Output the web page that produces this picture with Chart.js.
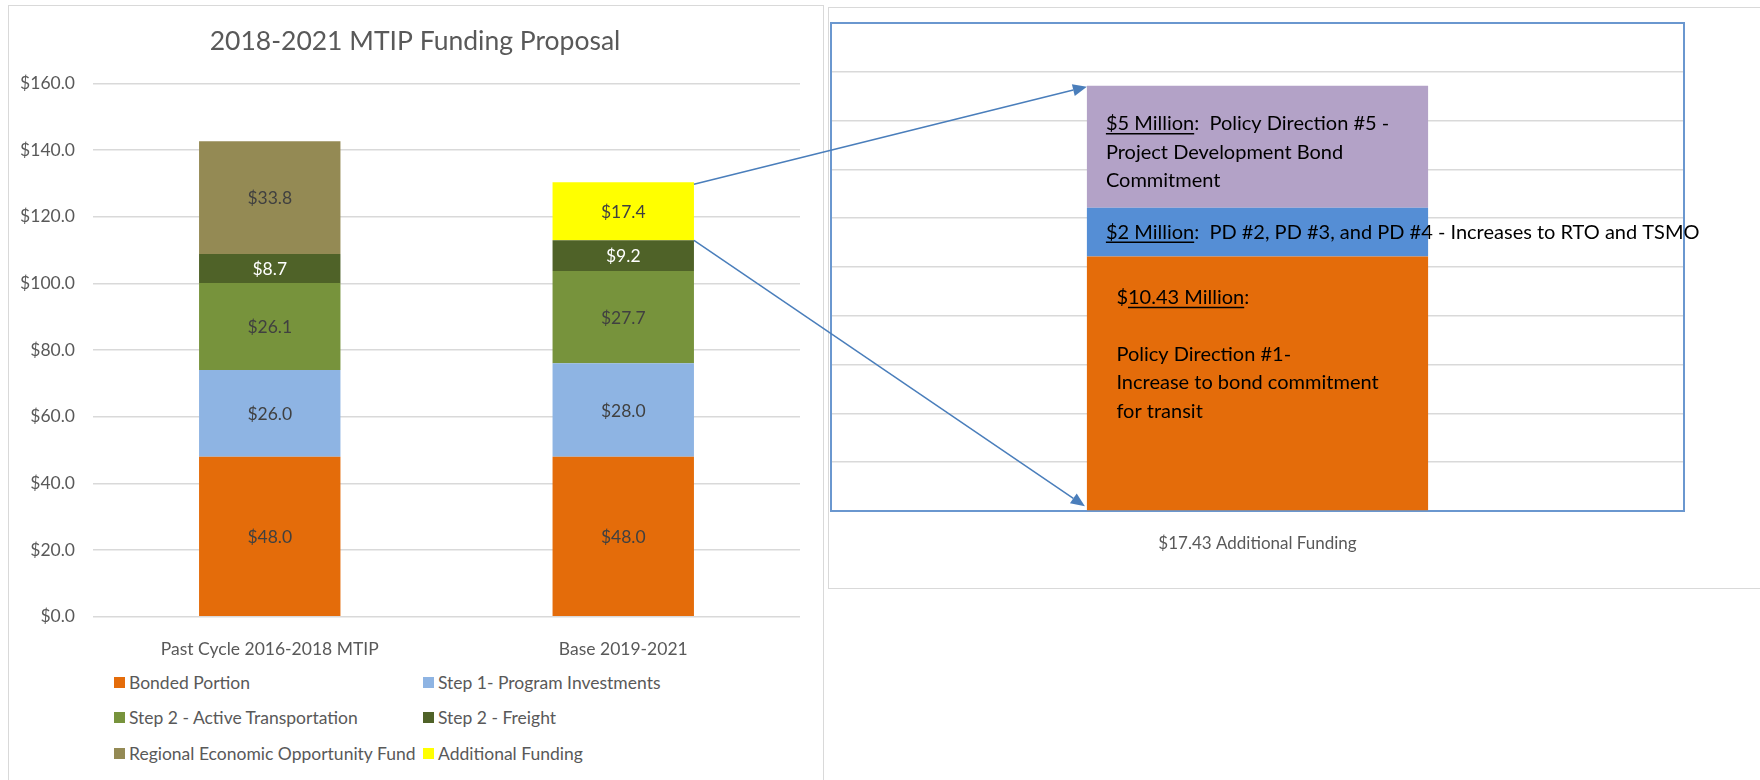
<!DOCTYPE html>
<html><head><meta charset="utf-8">
<script src="https://cdn.jsdelivr.net/npm/chart.js@4.4.1/dist/chart.umd.min.js"></script>
<style>
html,body{margin:0;padding:0;background:#fff;overflow:hidden;width:1760px;height:780px;font-family:Lato,"Open Sans",sans-serif}
#leftPanel{position:absolute;left:8px;top:5px;width:816px;height:800px;border:1.5px solid #D9D9D9;box-sizing:border-box}
#rightPanel{position:absolute;left:828px;top:7px;width:1000px;height:582px;border:1.5px solid #D9D9D9;box-sizing:border-box}
#c1{position:absolute;left:0;top:0}
#c2{position:absolute;left:829px;top:9px}
#overlay{position:absolute;left:0;top:0;pointer-events:none}
.lg{position:absolute;display:flex;align-items:center;white-space:nowrap;color:#595959;font-size:17.5px;height:24px}
.lg span.box{display:inline-block;width:11px;height:11px;margin-right:4px}
</style></head>
<body>
<div id="leftPanel"></div>
<div id="rightPanel"></div>
<canvas id="c1" width="823" height="660"></canvas>
<canvas id="c2" width="931" height="570"></canvas>
<div id="legend"></div>
<canvas id="overlay" width="1760" height="780"></canvas>
<script>
// ---------- data ----------
const chartTitle = '2018-2021 MTIP Funding Proposal';
const categories = ['Past Cycle 2016-2018 MTIP', 'Base 2019-2021'];
const seriesNames = ['Bonded Portion', 'Step 1- Program Investments', 'Step 2 - Active Transportation', 'Step 2 - Freight', 'Regional Economic Opportunity Fund', 'Additional Funding'];
const bonded = [48.0, 48.0];
const step1Program = [26.0, 28.0];
const step2Active = [26.1, 27.7];
const step2Freight = [8.7, 9.2];
const regionalFund = [33.8, null];
const additionalFunding = [null, 17.4];
const yMin = 0, yMax = 160, yStep = 20;

const breakdownCategories = ['$17.43 Additional Funding'];
const breakdownNames = ['Policy Direction #1', 'PD #2, PD #3, PD #4', 'Policy Direction #5'];
const pd1 = [10.43];
const pd234 = [2];
const pd5 = [5];
const yMin2 = 0, yMax2 = 20, yStep2 = 2;

// note text, one entry per breakdown segment: lines of [text, underlined]
const pd1Note = [[['$', false], ['10.43 Million', true], [':', false]], [], [['Policy Direction #1-', false]], [['Increase to bond commitment', false]], [['for transit', false]]];
const pd234Note = [[['$2 Million', true], [':  PD #2, PD #3, and PD #4 - Increases to RTO and TSMO', false]]];
const pd5Note = [[['$5 Million', true], [':  Policy Direction #5 -', false]], [['Project Development Bond', false]], [['Commitment', false]]];

// ---------- styles ----------
const FONT = 'Lato';
const seriesColors = ['#E46C0A', '#8EB4E3', '#77933C', '#4F6228', '#948A54', '#FFFF00'];
const labelColors = ['#404040', '#404040', '#404040', '#FFFFFF', '#404040', '#404040'];
const breakdownColors = ['#E46C0A', '#558ED5', '#B3A2C7'];

const leftSeries = [bonded, step1Program, step2Active, step2Freight, regionalFund, additionalFunding];

const dataLabelPlugin = {
  id: 'dataLabels',
  afterDatasetsDraw(chart) {
    const ctx = chart.ctx;
    ctx.save();
    ctx.font = '17.5px ' + FONT;
    ctx.textAlign = 'center';
    ctx.textBaseline = 'middle';
    chart.data.datasets.forEach((ds, i) => {
      const meta = chart.getDatasetMeta(i);
      meta.data.forEach((el, j) => {
        const v = ds.data[j];
        if (v === null || v === undefined) return;
        const p = el.getProps(['x', 'y', 'base'], true);
        ctx.fillStyle = labelColors[i];
        ctx.fillText('$' + v.toFixed(1), p.x, (p.y + p.base) / 2 + 1);
      });
    });
    ctx.restore();
  }
};

const chart1 = new Chart(document.getElementById('c1'), {
  type: 'bar',
  data: {
    labels: categories,
    datasets: leftSeries.map((d, i) => ({
      label: seriesNames[i], data: d, backgroundColor: seriesColors[i],
      borderWidth: 0, barPercentage: 0.4, categoryPercentage: 1.0
    }))
  },
  options: {
    responsive: false, animation: false, devicePixelRatio: 1,
    layout: { padding: { left: 20, right: 13, top: 0, bottom: 0 } },
    plugins: {
      legend: { display: false }, tooltip: { enabled: false },
      title: { display: true, text: chartTitle, color: '#595959',
        font: { family: FONT, size: 26.5, weight: 'normal', lineHeight: 1.2 }, padding: { top: 26, bottom: 25.5 } }
    },
    scales: {
      x: { stacked: true, grid: { display: false }, border: { display: false },
        ticks: { color: '#595959', font: { family: FONT, size: 17.5 }, padding: 14 },
        afterFit(s) { s.height = 43.3; } },
      y: { stacked: true, min: yMin, max: yMax, border: { display: false },
        grid: { color: '#D9D9D9', lineWidth: 1.5, drawTicks: false },
        ticks: { stepSize: yStep, color: '#595959', font: { family: FONT, size: 17.5 }, padding: 18,
          callback: v => '$' + Number(v).toFixed(1) },
        afterFit(s) { s.width = 73; } },
      yRight: { position: 'right', display: true, min: yMin, max: yMax,
        grid: { display: false, drawTicks: false }, border: { display: false },
        ticks: { display: false },
        afterFit(s) { s.width = 10; } }
    }
  },
  plugins: [dataLabelPlugin]
});

// legend generated from chart datasets
const legendEl = document.getElementById('legend');
chart1.data.datasets.forEach((ds, i) => {
  const col = i % 2, row = Math.floor(i / 2);
  const d = document.createElement('div');
  d.className = 'lg';
  d.style.left = [114, 423][col] + 'px';
  d.style.top = (670 + row * 35.5) + 'px';
  const b = document.createElement('span');
  b.className = 'box';
  b.style.background = ds.backgroundColor;
  d.appendChild(b);
  d.appendChild(document.createTextNode(ds.label));
  legendEl.appendChild(d);
});

const rightSeries = [pd1, pd234, pd5];
const rightNotes = [pd1Note, pd234Note, pd5Note];
const noteLayout = [
  { dx: 29.5, dy: [41, 70, 98, 126, 154.7] },
  { dx: 19, dy: [24.5] },
  { dx: 19, dy: [38, 67, 95] }
];

const frameAndNotes = {
  id: 'frameNotes',
  beforeDatasetsDraw(chart) {
    const a = chart.chartArea, ctx = chart.ctx;
    ctx.save();
    ctx.strokeStyle = '#6A97CF';
    ctx.lineWidth = 2;
    ctx.strokeRect(a.left, a.top, a.right - a.left, a.bottom - a.top);
    ctx.restore();
  },
  afterDatasetsDraw(chart) {
    const ctx = chart.ctx;
    ctx.save();
    ctx.font = '20px ' + FONT;
    ctx.textBaseline = 'middle';
    ctx.textAlign = 'left';
    ctx.fillStyle = '#000';
    ctx.strokeStyle = '#000';
    ctx.lineWidth = 1.5;
    rightNotes.forEach((lines, i) => {
      const el = chart.getDatasetMeta(i).data[0];
      const p = el.getProps(['x', 'y', 'width'], true);
      const left = p.x - p.width / 2 + noteLayout[i].dx;
      lines.forEach((segs, li) => {
        const y = p.y + noteLayout[i].dy[li];
        let x = left;
        segs.forEach(([t, u]) => {
          ctx.fillText(t, x, y);
          const w = ctx.measureText(t).width;
          if (u) { ctx.beginPath(); ctx.moveTo(x, y + 10); ctx.lineTo(x + w, y + 10); ctx.stroke(); }
          x += w;
        });
      });
    });
    ctx.restore();
  }
};

const chart2 = new Chart(document.getElementById('c2'), {
  type: 'bar',
  data: {
    labels: breakdownCategories,
    datasets: rightSeries.map((d, i) => ({
      label: breakdownNames[i], data: d, backgroundColor: breakdownColors[i],
      borderWidth: 0, barPercentage: 0.4, categoryPercentage: 1.0
    }))
  },
  options: {
    responsive: false, animation: false, devicePixelRatio: 1,
    layout: { padding: { left: 0, right: 76, top: 14, bottom: 0 } },
    plugins: { legend: { display: false }, tooltip: { enabled: false }, title: { display: false } },
    scales: {
      x: { stacked: true, grid: { display: false }, border: { display: false },
        ticks: { color: '#595959', font: { family: FONT, size: 17 }, padding: 14 },
        afterFit(s) { s.height = 68; } },
      y: { stacked: true, min: yMin2, max: yMax2, border: { display: false },
        grid: { color: '#D9D9D9', lineWidth: 1.5, drawTicks: false },
        ticks: { stepSize: yStep2, display: false },
        afterFit(s) { s.width = 2; } }
    }
  },
  plugins: [frameAndNotes]
});

// connector arrows, positioned from both charts' bar elements
(function drawArrows() {
  const ctx = document.getElementById('overlay').getContext('2d');
  const off2 = { x: 829, y: 9 };
  const addEl = chart1.getDatasetMeta(5).data[1].getProps(['x', 'y', 'width'], true);
  const frEl = chart1.getDatasetMeta(3).data[1].getProps(['x', 'y', 'width'], true);
  const topEl = chart2.getDatasetMeta(2).data[0].getProps(['x', 'y', 'width'], true);
  const botEl = chart2.getDatasetMeta(0).data[0].getProps(['x', 'y', 'base', 'width'], true);
  function arrow(x1, y1, x2, y2) {
    const ang = Math.atan2(y2 - y1, x2 - x1);
    const L = 14, W = 6;
    const bx = x2 - L * Math.cos(ang), by = y2 - L * Math.sin(ang);
    ctx.beginPath(); ctx.moveTo(x1, y1); ctx.lineTo(bx, by); ctx.stroke();
    ctx.beginPath(); ctx.moveTo(x2, y2);
    ctx.lineTo(bx + W * Math.sin(ang), by - W * Math.cos(ang));
    ctx.lineTo(bx - W * Math.sin(ang), by + W * Math.cos(ang));
    ctx.closePath(); ctx.fill();
  }
  ctx.strokeStyle = '#4A7EBB';
  ctx.fillStyle = '#4A7EBB';
  ctx.lineWidth = 1.5;
  arrow(addEl.x + addEl.width / 2, addEl.y + 2, off2.x + topEl.x - topEl.width / 2, off2.y + topEl.y + 1);
  arrow(frEl.x + frEl.width / 2, frEl.y, off2.x + botEl.x - botEl.width / 2 - 2, off2.y + botEl.base - 4);
})();
</script>
</body></html>
